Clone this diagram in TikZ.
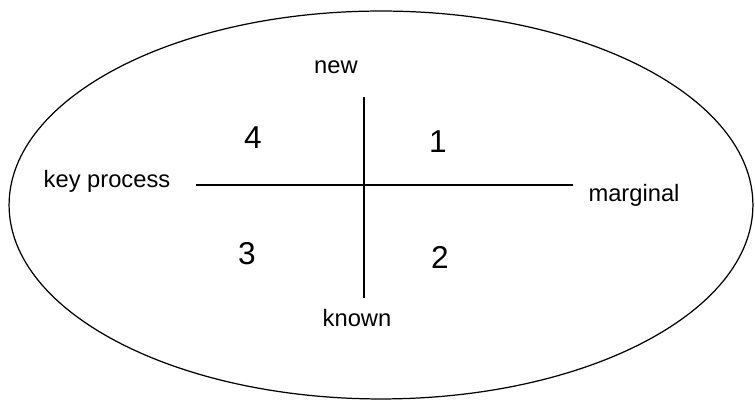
\documentclass[tikz,border=0pt]{standalone}
\usepackage{fontspec}
\setmainfont{Liberation Sans}
\begin{document}
\begin{tikzpicture}[
  x=0.02cm, y=-0.02cm,
  axis/.style={line width=1.2pt},
  pole/.style={anchor=mid, inner sep=0pt, font=\fontsize{13.5}{16}\selectfont},
  region/.style={inner sep=0pt, font=\fontsize{18}{21}\selectfont}
]
  \useasboundingbox (0,0) rectangle (755,401);
  \draw[line width=0.7pt] (381,205) ellipse [x radius=7.44cm, y radius=3.88cm];

  \coordinate (axl) at (196,185);
  \coordinate (axr) at (573,185);
  \coordinate (axt) at (364,97);
  \coordinate (axb) at (364,298);

  \draw[axis] (axl) -- (axr);
  \draw[axis] (axt) -- (axb);

  \node[pole] (new) at (336,69) {new};
  \node[pole] (known) at (357,322) {known};
  \node[pole] (key) at (107,183) {key process};
  \node[pole] (marginal) at (634,197) {marginal};

  \node[region] (q4) at (253,138) {4};
  \node[region] (q1) at (438,142) {1};
  \node[region] (q3) at (247,254) {3};
  \node[region] (q2) at (440,257) {2};
\end{tikzpicture}
\end{document}
